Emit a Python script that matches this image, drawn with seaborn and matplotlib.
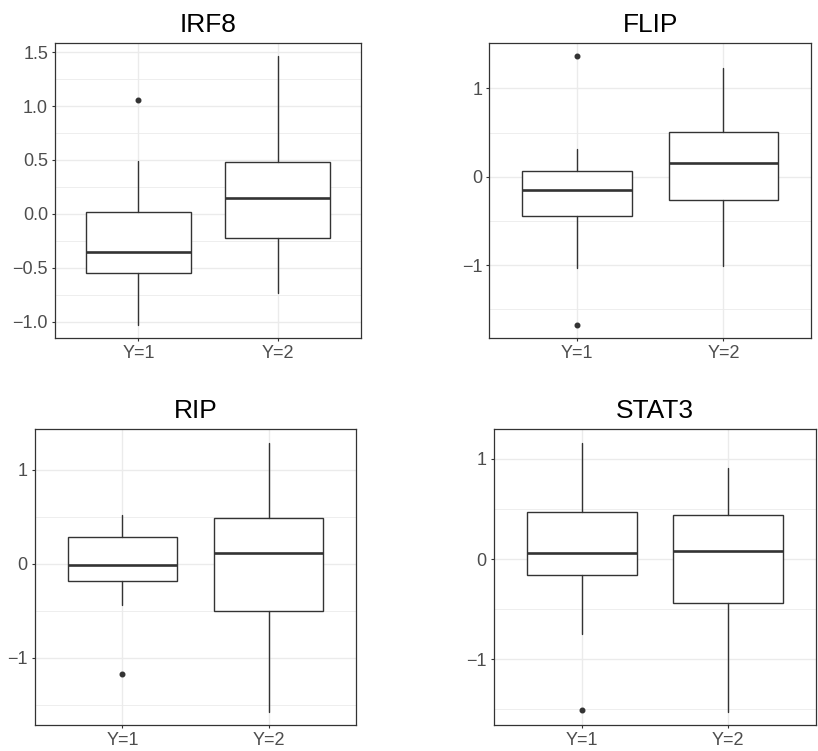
import seaborn as sns
import matplotlib.pyplot as plt
import numpy as np

# box statistics, one entry per panel, [Y=1, Y=2]
genes = ["IRF8", "FLIP", "RIP", "STAT3"]
groups = ["Y=1", "Y=2"]
whisker_low = [[-1.026, -0.735], [-1.030, -1.008], [-0.445, -1.573], [-0.748, -1.523]]
q1 = [[-0.552, -0.223], [-0.438, -0.264], [-0.189, -0.505], [-0.160, -0.437]]
median = [[-0.356, 0.146], [-0.151, 0.159], [-0.014, 0.117], [0.057, 0.080]]
q3 = [[0.020, 0.477], [0.068, 0.510], [0.281, 0.480], [0.471, 0.437]]
whisker_high = [[0.490, 1.460], [0.314, 1.231], [0.520, 1.285], [1.162, 0.905]]
outliers = [[[1.06], []], [[1.363, -1.671], []], [[-1.171], []], [[-1.503], []]]

# y ticks per panel (major, minor)
major_ticks = [[-1.0, -0.5, 0.0, 0.5, 1.0, 1.5], [-1, 0, 1], [-1, 0, 1], [-1, 0, 1]]
minor_ticks = [[-0.75, -0.25, 0.25, 0.75, 1.25], [-1.5, -0.5, 0.5], [-1.5, -0.5, 0.5], [-1.5, -0.5, 0.5]]
tick_fmt = ["{:.1f}", "{:.0f}", "{:.0f}", "{:.0f}"]

sns.set_theme(style="white")
plt.rcParams['font.family'] = ['Liberation Sans', 'DejaVu Sans']

W, H = 818, 751
fig = plt.figure(figsize=(W / 100, H / 100), dpi=100)
fig.patch.set_facecolor("white")

# panel boxes in pixels: left, right, top, bottom
panels = [(55, 361, 43, 338), (489.3, 811.3, 43, 338),
          (34.7, 356.3, 429.3, 725), (493.7, 816, 429.3, 725)]

dark = "#333333"
for i, gene in enumerate(genes):
    l, r, t, b = panels[i]
    ax = fig.add_axes([l / W, 1 - b / H, (r - l) / W, (b - t) / H])
    stats = []
    for j, g in enumerate(groups):
        stats.append(dict(label=g, whislo=whisker_low[i][j], q1=q1[i][j], med=median[i][j],
                          q3=q3[i][j], whishi=whisker_high[i][j], fliers=outliers[i][j]))
    ax.bxp(stats, positions=[1, 2], widths=0.75, showcaps=False, patch_artist=True,
           boxprops=dict(facecolor="white", edgecolor=dark, linewidth=1.0),
           medianprops=dict(color=dark, linewidth=1.9),
           whiskerprops=dict(color=dark, linewidth=1.0),
           flierprops=dict(marker="o", markersize=3.3, markerfacecolor=dark,
                           markeredgecolor=dark, linestyle="none"),
           zorder=3)

    vals = np.concatenate([np.ravel(whisker_low[i]), np.ravel(whisker_high[i]),
                           np.concatenate([np.ravel(o) for o in outliers[i] if len(o)] or [[0]])])
    lo, hi = vals.min(), vals.max()
    pad = (hi - lo) * 0.05
    ax.set_ylim(lo - pad, hi + pad)
    ax.set_xlim(0.4, 2.6)

    ax.set_yticks(major_ticks[i])
    ax.set_yticklabels([tick_fmt[i].format(v).replace("-", "\u2212") for v in major_ticks[i]])
    ax.set_yticks(minor_ticks[i], minor=True)
    ax.set_xticks([1, 2])
    ax.set_xticklabels(groups)

    ax.grid(True, which="major", color="#EBEBEB", linewidth=1.0, zorder=0)
    ax.grid(True, which="minor", axis="y", color="#EBEBEB", linewidth=0.6, zorder=0)
    ax.set_axisbelow(True)
    ax.tick_params(which="major", length=2.5, width=0.8, color=dark, pad=2.5,
                   labelsize=13, labelcolor="#4D4D4D", left=True, bottom=True)
    ax.tick_params(which="minor", length=0, left=False, bottom=False)
    for s in ax.spines.values():
        s.set_color(dark)
        s.set_linewidth(0.9)
    ax.set_title(gene, fontsize=19, color="black", pad=8)

fig.savefig("out.png", dpi=100)
